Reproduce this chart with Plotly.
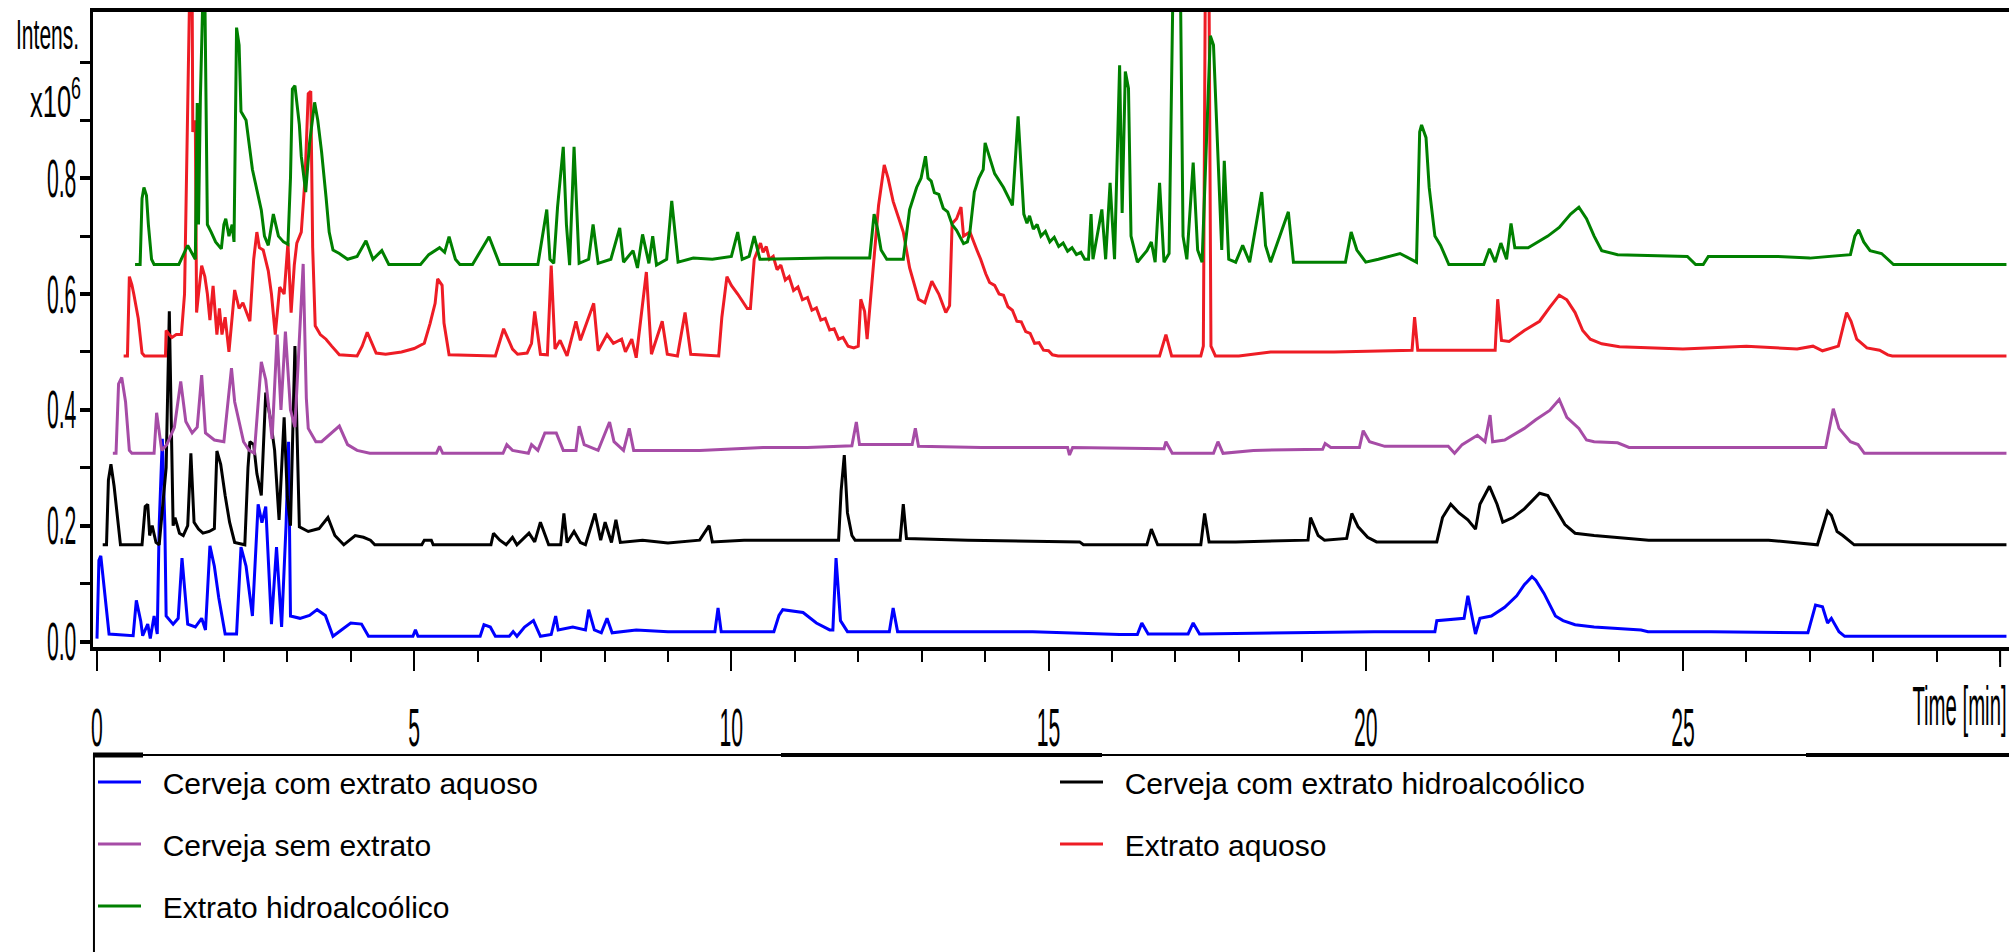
import plotly.graph_objects as go

# ---------------- data (time in min, intensity x10^6) ----------------
blue_t = [0.0,0.03,0.06,0.12,0.19,0.57,0.62,0.69,0.72,0.8,0.84,0.9,0.95,0.98,1.03,1.07,1.09,1.2,1.28,1.34,1.43,1.55,1.65,1.71,1.78,1.85,1.92,2.02,2.2,2.27,2.35,2.45,2.54,2.6,2.66,2.75,2.83,2.91,2.98,3.02,3.05,3.2,3.35,3.47,3.6,3.72,3.85,4.0,4.17,4.28,4.98,5.02,5.06,6.04,6.1,6.2,6.28,6.5,6.56,6.62,6.74,6.88,6.99,7.16,7.23,7.27,7.5,7.7,7.75,7.84,7.95,8.04,8.12,8.5,9.0,9.5,9.74,9.79,9.84,10.67,10.75,10.81,11.13,11.34,11.55,11.6,11.65,11.72,11.83,12.49,12.55,12.62,14.75,16.12,16.4,16.47,16.57,17.2,17.28,17.38,20.13,21.09,21.12,21.55,21.61,21.73,21.8,21.98,22.19,22.38,22.5,22.62,22.68,22.81,22.99,23.11,23.3,23.6,24.34,24.45,25.44,26.97,27.04,27.09,27.2,27.28,27.34,27.46,27.55,30.1]
blue_v = [0.005,0.14,0.148,0.083,0.013,0.01,0.071,0.035,0.01,0.03,0.005,0.044,0.013,0.2,0.35,0.2,0.044,0.03,0.04,0.144,0.03,0.025,0.04,0.02,0.165,0.13,0.075,0.013,0.013,0.163,0.13,0.044,0.237,0.205,0.233,0.03,0.163,0.025,0.2,0.345,0.044,0.04,0.045,0.055,0.045,0.009,0.02,0.032,0.03,0.009,0.009,0.02,0.009,0.009,0.029,0.025,0.009,0.009,0.017,0.009,0.025,0.036,0.009,0.012,0.044,0.02,0.025,0.02,0.055,0.02,0.015,0.04,0.015,0.02,0.017,0.017,0.017,0.058,0.017,0.017,0.045,0.055,0.05,0.032,0.02,0.02,0.144,0.036,0.017,0.017,0.058,0.017,0.017,0.012,0.012,0.032,0.013,0.013,0.032,0.013,0.017,0.017,0.036,0.04,0.079,0.013,0.04,0.044,0.059,0.079,0.098,0.112,0.106,0.083,0.044,0.036,0.029,0.025,0.02,0.017,0.017,0.015,0.045,0.063,0.06,0.032,0.04,0.017,0.009,0.009]

black_t = [0.09,0.15,0.18,0.22,0.27,0.32,0.37,0.71,0.76,0.8,0.83,0.87,0.93,0.98,1.04,1.09,1.14,1.17,1.2,1.23,1.3,1.36,1.43,1.48,1.53,1.6,1.67,1.77,1.85,1.89,1.95,2.02,2.09,2.17,2.33,2.38,2.41,2.47,2.52,2.59,2.66,2.73,2.8,2.87,2.95,3.0,3.05,3.12,3.16,3.19,3.33,3.5,3.64,3.75,3.89,4.07,4.2,4.31,4.38,5.12,5.16,5.27,5.3,6.21,6.25,6.35,6.45,6.55,6.62,6.81,6.9,6.99,7.12,7.31,7.36,7.41,7.52,7.62,7.7,7.85,7.94,8.01,8.11,8.18,8.25,8.6,9.0,9.5,9.65,9.7,10.2,11.69,11.73,11.78,11.83,11.9,11.95,12.66,12.71,12.76,13.73,15.49,15.55,16.55,16.62,16.72,17.4,17.46,17.53,17.95,19.09,19.13,19.25,19.35,19.7,19.78,19.88,20.03,20.17,21.12,21.21,21.34,21.47,21.61,21.73,21.8,21.95,22.07,22.16,22.32,22.5,22.74,22.87,22.99,23.14,23.3,23.6,24.46,26.35,27.12,27.28,27.34,27.43,27.52,27.7,30.1]
black_v = [0.167,0.167,0.279,0.306,0.268,0.213,0.167,0.167,0.233,0.237,0.183,0.2,0.171,0.167,0.237,0.3,0.57,0.4,0.2,0.214,0.187,0.183,0.2,0.325,0.206,0.194,0.187,0.19,0.195,0.329,0.306,0.252,0.206,0.171,0.167,0.3,0.345,0.34,0.29,0.252,0.43,0.387,0.33,0.21,0.387,0.25,0.2,0.51,0.3,0.198,0.19,0.195,0.214,0.183,0.167,0.183,0.18,0.175,0.167,0.167,0.175,0.175,0.167,0.167,0.187,0.175,0.167,0.18,0.167,0.187,0.172,0.206,0.167,0.167,0.221,0.171,0.19,0.171,0.167,0.221,0.175,0.206,0.171,0.21,0.171,0.175,0.17,0.175,0.2,0.172,0.175,0.175,0.26,0.322,0.222,0.183,0.175,0.175,0.237,0.178,0.175,0.172,0.167,0.167,0.194,0.167,0.167,0.221,0.172,0.172,0.175,0.214,0.183,0.175,0.178,0.221,0.198,0.18,0.172,0.172,0.214,0.237,0.222,0.21,0.194,0.237,0.268,0.237,0.206,0.214,0.229,0.256,0.252,0.229,0.202,0.187,0.183,0.175,0.175,0.167,0.225,0.218,0.19,0.183,0.167,0.167]

purple_t = [0.25,0.3,0.34,0.39,0.45,0.48,0.51,0.55,0.9,0.94,0.98,1.02,1.1,1.22,1.32,1.4,1.5,1.58,1.65,1.71,1.85,2.0,2.12,2.17,2.31,2.4,2.48,2.59,2.66,2.76,2.84,2.9,2.97,3.05,3.12,3.22,3.25,3.3,3.33,3.45,3.54,3.82,3.95,4.1,4.3,5.35,5.4,5.45,6.4,6.46,6.55,6.8,6.85,6.95,7.06,7.24,7.35,7.55,7.6,7.68,7.9,8.08,8.15,8.3,8.39,8.46,9.5,10.5,11.2,11.9,11.97,12.02,12.85,12.9,12.95,13.94,15.3,15.33,15.38,16.82,16.85,16.95,17.6,17.67,17.75,18.23,19.32,19.36,19.45,19.9,19.96,20.06,20.3,21.3,21.4,21.52,21.76,21.88,21.96,22.0,22.19,22.5,22.68,22.9,23.05,23.17,23.36,23.48,23.6,23.97,24.15,27.25,27.32,27.37,27.46,27.64,27.76,27.86,30.1]
purple_v = [0.325,0.325,0.445,0.456,0.414,0.37,0.33,0.325,0.325,0.395,0.36,0.33,0.34,0.37,0.449,0.38,0.36,0.37,0.46,0.36,0.348,0.345,0.472,0.414,0.345,0.33,0.325,0.483,0.452,0.35,0.53,0.4,0.535,0.4,0.37,0.6,0.652,0.42,0.368,0.345,0.345,0.372,0.34,0.33,0.325,0.325,0.337,0.325,0.325,0.34,0.33,0.325,0.34,0.33,0.36,0.36,0.33,0.33,0.372,0.34,0.33,0.379,0.345,0.33,0.368,0.33,0.33,0.335,0.335,0.338,0.379,0.34,0.34,0.368,0.337,0.335,0.335,0.322,0.335,0.333,0.345,0.325,0.325,0.345,0.325,0.33,0.332,0.342,0.335,0.335,0.364,0.345,0.337,0.337,0.325,0.34,0.356,0.345,0.391,0.345,0.348,0.368,0.383,0.399,0.418,0.387,0.368,0.348,0.345,0.343,0.335,0.335,0.372,0.402,0.368,0.345,0.34,0.325,0.325]

red_t = [0.42,0.48,0.51,0.55,0.58,0.65,0.71,0.75,1.08,1.09,1.14,1.18,1.25,1.33,1.38,1.43,1.46,1.5,1.51,1.55,1.57,1.6,1.65,1.7,1.74,1.78,1.83,1.89,1.93,1.97,2.02,2.08,2.17,2.24,2.3,2.41,2.47,2.52,2.56,2.62,2.7,2.75,2.81,2.88,2.95,3.01,3.06,3.11,3.15,3.22,3.28,3.33,3.37,3.4,3.44,3.52,3.61,3.7,3.82,4.1,4.18,4.26,4.4,4.55,4.8,5.0,5.16,5.25,5.33,5.37,5.44,5.47,5.55,6.28,6.41,6.55,6.63,6.78,6.85,6.9,6.99,7.1,7.16,7.22,7.3,7.41,7.55,7.62,7.7,7.83,7.9,8.04,8.14,8.27,8.33,8.43,8.5,8.66,8.74,8.91,8.99,9.15,9.27,9.36,9.8,9.85,9.93,10.0,10.1,10.25,10.3,10.36,10.46,10.5,10.55,10.6,10.66,10.72,10.78,10.85,10.91,10.98,11.05,11.12,11.2,11.27,11.34,11.41,11.48,11.55,11.62,11.69,11.76,11.84,11.93,12.0,12.04,12.1,12.14,12.25,12.32,12.41,12.47,12.55,12.71,12.81,12.95,13.05,13.16,13.27,13.38,13.44,13.48,13.55,13.62,13.66,13.76,13.87,13.93,14.01,14.07,14.15,14.22,14.29,14.36,14.43,14.5,14.57,14.64,14.71,14.78,14.85,14.92,15.0,15.06,15.15,16.75,16.85,16.94,17.4,17.44,17.47,17.53,17.56,17.63,18.0,18.5,19.5,20.5,20.73,20.77,20.82,22.04,22.08,22.14,22.26,22.5,22.74,22.9,23.05,23.17,23.3,23.42,23.54,23.72,24.0,25.0,26.0,26.8,27.05,27.2,27.45,27.58,27.65,27.74,27.9,28.1,28.23,28.3,30.1]
red_v = [0.493,0.493,0.63,0.616,0.6,0.558,0.498,0.493,0.493,0.537,0.53,0.525,0.53,0.53,0.6,0.9,1.12,1.12,0.88,0.9,0.568,0.6,0.649,0.63,0.6,0.555,0.614,0.53,0.575,0.53,0.56,0.5,0.607,0.575,0.585,0.553,0.66,0.707,0.68,0.676,0.64,0.6,0.53,0.612,0.6,0.688,0.568,0.65,0.688,0.707,0.8,0.946,0.95,0.68,0.545,0.53,0.522,0.51,0.495,0.493,0.51,0.534,0.498,0.496,0.5,0.506,0.515,0.549,0.584,0.626,0.615,0.55,0.495,0.493,0.54,0.505,0.496,0.498,0.515,0.57,0.496,0.495,0.649,0.505,0.52,0.493,0.553,0.52,0.545,0.584,0.502,0.53,0.515,0.522,0.5,0.522,0.49,0.638,0.496,0.553,0.496,0.493,0.568,0.496,0.493,0.56,0.63,0.615,0.6,0.575,0.575,0.66,0.688,0.672,0.682,0.66,0.665,0.642,0.65,0.624,0.63,0.606,0.612,0.59,0.594,0.572,0.576,0.555,0.558,0.538,0.54,0.522,0.525,0.51,0.507,0.51,0.591,0.57,0.522,0.661,0.753,0.823,0.8,0.76,0.707,0.645,0.591,0.585,0.622,0.6,0.568,0.58,0.722,0.73,0.75,0.7,0.707,0.676,0.66,0.635,0.62,0.615,0.6,0.598,0.578,0.572,0.553,0.552,0.535,0.532,0.515,0.516,0.503,0.502,0.495,0.493,0.493,0.53,0.493,0.493,0.51,1.12,1.12,0.51,0.493,0.493,0.5,0.5,0.503,0.503,0.56,0.503,0.503,0.591,0.52,0.518,0.537,0.553,0.577,0.598,0.59,0.568,0.537,0.522,0.514,0.509,0.505,0.51,0.505,0.51,0.502,0.51,0.568,0.553,0.522,0.507,0.503,0.495,0.493,0.493]

green_t = [0.6,0.68,0.71,0.74,0.78,0.81,0.86,0.9,1.29,1.43,1.5,1.55,1.58,1.6,1.63,1.67,1.7,1.72,1.74,1.8,1.87,1.96,2.0,2.03,2.08,2.13,2.16,2.2,2.24,2.27,2.35,2.45,2.52,2.59,2.64,2.7,2.78,2.86,2.94,3.01,3.05,3.08,3.12,3.19,3.22,3.29,3.35,3.43,3.48,3.54,3.61,3.66,3.72,3.82,3.95,4.1,4.24,4.35,4.49,4.6,5.1,5.23,5.4,5.48,5.55,5.65,5.72,5.92,6.18,6.35,6.95,7.02,7.09,7.14,7.2,7.26,7.35,7.4,7.45,7.52,7.6,7.75,7.82,7.9,8.1,8.24,8.3,8.45,8.52,8.6,8.7,8.76,8.82,8.98,9.06,9.16,9.4,9.7,10.0,10.1,10.17,10.28,10.36,10.45,11.5,12.18,12.25,12.3,12.36,12.45,12.71,12.81,12.92,12.99,13.06,13.1,13.15,13.2,13.27,13.34,13.41,13.48,13.55,13.66,13.72,13.76,13.83,13.9,13.97,14.0,14.15,14.29,14.43,14.52,14.61,14.66,14.7,14.76,14.82,14.88,14.95,15.02,15.09,15.16,15.23,15.3,15.37,15.44,15.51,15.57,15.63,15.67,15.7,15.84,15.9,15.97,16.04,16.12,16.16,16.21,16.26,16.3,16.4,16.55,16.62,16.68,16.75,16.82,16.9,16.96,17.08,17.12,17.18,17.28,17.35,17.42,17.55,17.6,17.67,17.73,17.77,17.84,17.95,18.06,18.17,18.36,18.42,18.5,18.78,18.86,19.68,19.77,19.86,20.0,20.2,20.54,20.8,20.85,20.88,20.95,21.0,21.09,21.18,21.31,21.86,21.95,22.04,22.13,22.22,22.29,22.35,22.56,22.87,23.05,23.23,23.36,23.48,23.6,23.72,23.97,25.07,25.2,25.32,25.4,25.81,26.5,27.0,27.64,27.71,27.77,27.85,27.95,28.13,28.32,30.1]
green_v = [0.651,0.651,0.765,0.784,0.77,0.72,0.66,0.651,0.651,0.684,0.67,0.66,0.93,0.72,0.94,1.12,1.12,0.877,0.72,0.707,0.69,0.678,0.72,0.73,0.7,0.72,0.69,1.06,1.03,0.915,0.9,0.815,0.78,0.745,0.7,0.684,0.738,0.7,0.69,0.686,0.8,0.954,0.96,0.892,0.838,0.776,0.86,0.931,0.9,0.846,0.768,0.707,0.676,0.67,0.66,0.665,0.692,0.66,0.675,0.651,0.651,0.668,0.68,0.672,0.699,0.66,0.651,0.651,0.699,0.651,0.651,0.7,0.746,0.66,0.653,0.75,0.854,0.72,0.65,0.854,0.653,0.66,0.72,0.653,0.66,0.714,0.655,0.675,0.645,0.703,0.653,0.7,0.65,0.66,0.761,0.655,0.662,0.66,0.665,0.707,0.66,0.665,0.7,0.66,0.662,0.662,0.738,0.715,0.676,0.66,0.66,0.746,0.784,0.8,0.838,0.8,0.795,0.775,0.772,0.748,0.742,0.72,0.71,0.687,0.69,0.707,0.776,0.8,0.815,0.861,0.808,0.784,0.753,0.907,0.738,0.722,0.735,0.712,0.72,0.7,0.708,0.69,0.698,0.682,0.688,0.674,0.68,0.668,0.672,0.66,0.66,0.738,0.66,0.746,0.66,0.792,0.66,0.995,0.74,0.984,0.955,0.7,0.655,0.675,0.69,0.655,0.792,0.655,0.67,1.12,1.12,0.7,0.66,0.827,0.676,0.655,1.046,1.03,0.838,0.676,0.83,0.66,0.655,0.684,0.655,0.776,0.684,0.655,0.742,0.655,0.655,0.707,0.676,0.655,0.66,0.67,0.655,0.88,0.892,0.87,0.784,0.7,0.684,0.651,0.651,0.678,0.655,0.688,0.66,0.722,0.68,0.68,0.7,0.715,0.738,0.75,0.73,0.7,0.675,0.668,0.665,0.651,0.651,0.665,0.665,0.665,0.662,0.668,0.7,0.711,0.69,0.675,0.67,0.651,0.651]

series_names = ["Cerveja com extrato aquoso", "Cerveja com extrato hidroalcoólico",
                "Cerveja sem extrato", "Extrato aquoso", "Extrato hidroalcoólico"]
series_colors = ["#0000FF", "#000000", "#A64CA6", "#EE1C25", "#008000"]
series_legend = ["legend", "legend2", "legend", "legend2", "legend"]
series_data = [(blue_t, blue_v), (black_t, black_v), (purple_t, purple_v),
               (red_t, red_v), (green_t, green_v)]

x_tickvals = [0, 5, 10, 15, 20, 25]
x_ticktext = ["0", "5", "10", "15", "20", "25"]
y_tickvals = [0.0, 0.2, 0.4, 0.6, 0.8]
y_ticktext = ["0.0", "0.2", "0.4", "0.6", "0.8"]

SANS = "Liberation Sans, Arial, sans-serif"
NB = "\u00a0\u00a0"

fig = go.Figure()
for i, (name, (t, v), col, lg) in enumerate(zip(series_names, series_data, series_colors, series_legend)):
    fig.add_trace(go.Scatter(x=t, y=v, mode="lines", name=NB + name,
                             line=dict(color=col, width=3),
                             legend=lg, legendgroup="g%d" % i, hoverinfo="skip"))

W, H = 2009, 952
ML, MR, MT, MB = 93, 0, 12, 305
ph = H - MT - MB


def py(px):
    return (H - MB - px) / ph


def pxx(px):
    return (px - ML) / (W - ML)


leg_common = dict(yanchor="top", orientation="v", traceorder="grouped", tracegroupgap=20,
                  font=dict(family=SANS, size=30, color="black"),
                  itemwidth=43, bgcolor="rgba(0,0,0,0)", borderwidth=0)

fig.update_layout(
    width=W, height=H, autosize=False,
    margin=dict(l=ML, r=MR, t=MT, b=MB, pad=0, autoexpand=False),
    paper_bgcolor="white", plot_bgcolor="white",
    font=dict(family=SANS, color="black"),
    showlegend=True,
    legend=dict(x=0.0, xanchor="left", y=py(756), **leg_common),
    legend2=dict(x=pxx(1055), xanchor="left", y=py(756), **leg_common),
    xaxis=dict(range=[-0.063, 30.14], tickmode="array", tickvals=x_tickvals, ticktext=x_ticktext,
               automargin=False,
               ticks="outside", ticklen=20, tickwidth=2, tickcolor="black",
               showline=True, linewidth=4, linecolor="black", mirror=True,
               showgrid=False, zeroline=False, ticklabelstandoff=11,
               tickfont=dict(family=SANS, size=53, color="black"),
               minor=dict(dtick=1, tick0=0, ticks="outside", ticklen=11, tickwidth=2,
                          tickcolor="black", showgrid=False)),
    yaxis=dict(range=[-0.0095, 1.087], tickmode="array", tickvals=y_tickvals, ticktext=y_ticktext,
               automargin=False,
               ticks="outside", ticklen=10, tickwidth=4, tickcolor="black",
               showline=True, linewidth=3, linecolor="black",
               showgrid=False, zeroline=False, ticklabelstandoff=-7,
               tickfont=dict(family=SANS, size=53, color="black"),
               minor=dict(dtick=0.1, tick0=0, ticks="outside", ticklen=10, tickwidth=3,
                          tickcolor="black", showgrid=False)),
    annotations=[
        dict(text="Intens.", xref="paper", yref="paper", x=pxx(81), y=py(34),
             xanchor="right", yanchor="middle", showarrow=False,
             font=dict(family=SANS, size=42, color="black")),
        dict(text="x10<sup>6</sup>", xref="paper", yref="paper", x=pxx(83), y=py(99),
             xanchor="right", yanchor="middle", showarrow=False,
             font=dict(family=SANS, size=44, color="black")),
        dict(text="Time [min]", xref="paper", yref="paper", x=1.0, y=py(706),
             xanchor="right", yanchor="middle", showarrow=False,
             font=dict(family=SANS, size=55, color="black")),
    ],
    shapes=[
        # major tick at 30 min (its label is replaced by the axis title)
        dict(type="line", xref="x", yref="paper", x0=30, x1=30, y0=0, y1=-20 / ph,
             line=dict(color="black", width=2)),
        # legend frame
        dict(type="rect", xref="paper", yref="paper", x0=0.0005, x1=1.05, y0=py(1100), y1=py(755),
             line=dict(color="black", width=2), fillcolor="rgba(0,0,0,0)", layer="above"),
        dict(type="line", xref="paper", yref="paper", x0=0.0, x1=pxx(143),
             y0=py(755), y1=py(755), line=dict(color="black", width=5)),
        dict(type="line", xref="paper", yref="paper", x0=pxx(781), x1=pxx(1102),
             y0=py(755), y1=py(755), line=dict(color="black", width=4)),
        dict(type="line", xref="paper", yref="paper", x0=pxx(1806), x1=1.0,
             y0=py(755), y1=py(755), line=dict(color="black", width=4)),
    ],
)

# Horizontally condense the axis texts (the original uses a very narrow typeface)
post_js = """
var gd = document.getElementById('{plot_id}');
function sq(sel, s, ox) {
  gd.querySelectorAll(sel).forEach(function(t) {
    var tr = t.getAttribute('transform') || '';
    var m = /translate\\(\\s*([-+\\d.eE]+)(?:[\\s,]+([-+\\d.eE]+))?\\s*\\)/.exec(tr);
    var tx = m ? parseFloat(m[1]) : 0, ty = (m && m[2]) ? parseFloat(m[2]) : 0;
    t.style.transformBox = 'fill-box';
    t.style.transformOrigin = ox + ' 50%';
    t.style.transform = 'translate(' + tx + 'px,' + ty + 'px) scaleX(' + s + ')';
  });
}
sq('g.xtick text', 0.40, '50%');
sq('g.ytick text', 0.40, '100%');
sq('g.annotation[data-index="0"] text', 0.50, '100%');
sq('g.annotation[data-index="1"] text', 0.58, '100%');
sq('g.annotation[data-index="2"] text', 0.37, '100%');
"""

fig.write_html("out.html", config={"displayModeBar": False, "staticPlot": True},
               post_script=post_js)
